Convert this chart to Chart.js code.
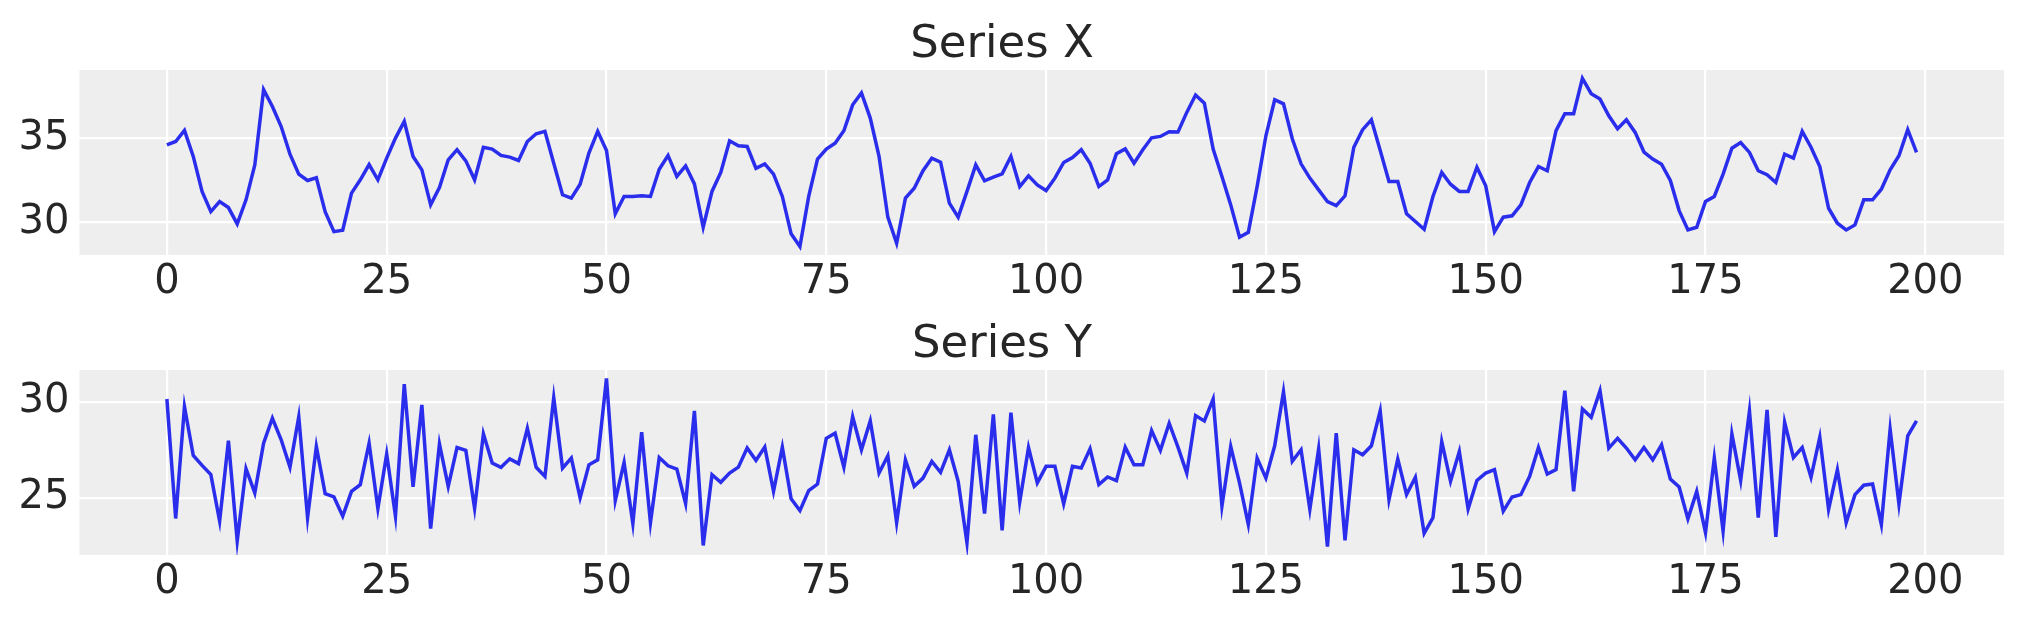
<!DOCTYPE html>
<html>
<head>
<meta charset="utf-8">
<script src="https://cdn.jsdelivr.net/npm/chart.js@4/dist/chart.umd.min.js"></script>
<style>
  html, body { margin: 0; padding: 0; background: #ffffff; }
  #wrap { position: relative; width: 2023px; height: 623px; }
  canvas { position: absolute; left: 0; }
</style>
</head>
<body>
<div id="wrap">
  <canvas id="chartX" width="2023" height="300" style="top:0px"></canvas>
  <canvas id="chartY" width="2023" height="323" style="top:300px"></canvas>
</div>
<script>
// values, index 0..199
const seriesX = [
  34.62, 34.82, 35.48, 33.93, 31.85, 30.65, 31.25, 30.89, 29.92, 31.35,
  33.43, 37.90, 36.90, 35.71, 34.07, 32.88, 32.50, 32.66, 30.65, 29.46,
  29.54, 31.75, 32.54, 33.45, 32.54, 33.83, 35.02, 36.01, 33.93, 33.13,
  31.05, 32.08, 33.73, 34.33, 33.67, 32.54, 34.48, 34.37, 33.99, 33.89,
  33.69, 34.82, 35.28, 35.42, 33.53, 31.65, 31.45, 32.28, 34.13, 35.42,
  34.29, 30.52, 31.55, 31.55, 31.59, 31.55, 33.17, 33.99, 32.74, 33.37,
  32.30, 29.72, 31.85, 32.98, 34.86, 34.56, 34.52, 33.23, 33.49, 32.88,
  31.55, 29.33, 28.57, 31.55, 33.77, 34.37, 34.72, 35.46, 37.00, 37.70,
  36.21, 33.93, 30.32, 28.77, 31.45, 32.04, 33.08, 33.83, 33.59, 31.15,
  30.32, 31.85, 33.43, 32.48, 32.70, 32.90, 33.93, 32.14, 32.78, 32.24,
  31.90, 32.64, 33.57, 33.87, 34.33, 33.53, 32.14, 32.54, 34.09, 34.38,
  33.53, 34.33, 35.04, 35.12, 35.40, 35.38, 36.55, 37.58, 37.10, 34.37,
  32.74, 31.05, 29.13, 29.42, 32.14, 35.16, 37.30, 37.06, 34.98, 33.49,
  32.64, 31.94, 31.25, 31.01, 31.59, 34.48, 35.52, 36.11, 34.29, 32.44,
  32.44, 30.52, 30.06, 29.60, 31.55, 32.98, 32.28, 31.85, 31.85, 33.29,
  32.18, 29.46, 30.32, 30.40, 31.05, 32.38, 33.33, 33.08, 35.46, 36.47,
  36.47, 38.57, 37.66, 37.34, 36.35, 35.58, 36.11, 35.36, 34.19, 33.77,
  33.47, 32.50, 30.71, 29.56, 29.72, 31.25, 31.55, 32.88, 34.42, 34.76,
  34.17, 33.08, 32.84, 32.38, 34.07, 33.83, 35.42, 34.48, 33.33, 30.85,
  29.96, 29.56, 29.86, 31.35, 31.35, 31.98, 33.13, 33.97, 35.52, 34.17
];

const seriesY = [
  30.14, 23.93, 29.74, 27.21, 26.69, 26.21, 23.79, 27.97, 22.76, 26.52,
  25.26, 27.84, 29.14, 28.02, 26.60, 29.22, 23.97, 27.67, 25.22, 25.05,
  24.05, 25.34, 25.69, 27.84, 24.45, 27.28, 24.05, 30.91, 25.57, 29.83,
  23.41, 27.81, 25.60, 27.62, 27.47, 24.45, 28.33, 26.81, 26.59, 27.03,
  26.78, 28.62, 26.59, 26.12, 30.21, 26.55, 27.07, 25.00, 26.72, 26.98,
  31.21, 24.86, 26.84, 23.67, 28.41, 23.71, 27.10, 26.67, 26.50, 24.71,
  29.52, 22.53, 26.21, 25.81, 26.29, 26.60, 27.59, 26.95, 27.64, 25.34,
  27.64, 24.95, 24.34, 25.38, 25.72, 28.10, 28.36, 26.60, 29.22, 27.50,
  29.00, 26.29, 27.19, 23.71, 26.98, 25.60, 26.03, 26.90, 26.33, 27.50,
  25.86, 22.67, 28.28, 24.19, 29.34, 23.31, 29.43, 24.78, 27.62, 25.78,
  26.64, 26.64, 24.69, 26.64, 26.55, 27.55, 25.69, 26.09, 25.90, 27.64,
  26.72, 26.72, 28.50, 27.47, 28.88, 27.64, 26.29, 29.28, 29.00, 30.14,
  24.57, 27.67, 25.78, 23.62, 27.07, 26.03, 27.71, 30.52, 26.90, 27.50,
  24.40, 27.55, 22.47, 28.36, 22.79, 27.50, 27.24, 27.71, 29.52, 24.91,
  27.02, 25.17, 26.07, 23.16, 23.97, 27.93, 25.86, 27.41, 24.43, 25.91,
  26.29, 26.47, 24.31, 25.05, 25.17, 26.12, 27.62, 26.24, 26.47, 30.57,
  25.34, 29.62, 29.19, 30.57, 27.59, 28.10, 27.59, 26.98, 27.62, 26.98,
  27.76, 25.98, 25.57, 23.91, 25.34, 23.19, 27.07, 23.28, 28.33, 25.91,
  29.52, 23.97, 29.57, 22.98, 28.93, 27.10, 27.62, 26.07, 28.16, 24.40,
  26.47, 23.71, 25.17, 25.66, 25.72, 23.62, 28.57, 24.69, 28.22, 29.00
];

const xTicks = [0, 25, 50, 75, 100, 125, 150, 175, 200];
const yTicksX = [30, 35];
const yTicksY = [25, 30];

const textColor = '#262626';
const fontFamily = "'DejaVu Sans', sans-serif";

// grey panel behind the plot area
const panelBg = {
  id: 'panelBg',
  beforeDraw(chart) {
    const a = chart.chartArea;
    const ctx = chart.ctx;
    ctx.save();
    ctx.fillStyle = '#eeeeee';
    ctx.fillRect(a.left, a.top, a.right - a.left, a.bottom - a.top);
    ctx.restore();
  }
};

// matplotlib style 5% margins
function paddedRange(values) {
  const lo = Math.min(...values), hi = Math.max(...values);
  const m = (hi - lo) * 0.05;
  return [lo - m, hi + m];
}

function makeChart(id, title, values, yTicks, xAxisHeight) {
  const yr = paddedRange(values);
  const n = values.length;
  const xm = (n - 1) * 0.05;
  return new Chart(document.getElementById(id).getContext('2d'), {
    type: 'line',
    data: {
      datasets: [{
        data: values.map((v, i) => ({ x: i, y: v })),
        borderColor: '#2a2eec',
        borderWidth: 3.5,
        pointRadius: 0,
        tension: 0,
        fill: false
      }]
    },
    options: {
      responsive: false,
      animation: false,
      events: [],
      layout: { padding: { left: 0, right: 19, top: 0, bottom: 0 } },
      plugins: {
        legend: { display: false },
        tooltip: { enabled: false },
        title: {
          display: true,
          text: title,
          color: textColor,
          font: { family: fontFamily, size: 45, weight: 'normal', lineHeight: 1.1 },
          padding: { top: 20.5, bottom: 0 }
        }
      },
      scales: {
        x: {
          type: 'linear',
          min: -xm,
          max: (n - 1) + xm,
          afterBuildTicks(scale) { scale.ticks = xTicks.map(v => ({ value: v })); },
          afterFit(scale) { scale.height = xAxisHeight; },
          grid: { color: '#ffffff', lineWidth: 2.2, drawTicks: false },
          border: { display: false },
          ticks: {
            color: textColor,
            font: { family: fontFamily, size: 40 },
            padding: 4,
            maxRotation: 0,
            autoSkip: false
          }
        },
        y: {
          type: 'linear',
          min: yr[0],
          max: yr[1],
          afterBuildTicks(scale) { scale.ticks = yTicks.map(v => ({ value: v })); },
          afterFit(scale) { scale.width = 79.4; },
          grid: { color: '#ffffff', lineWidth: 2.2, drawTicks: false },
          border: { display: false },
          ticks: {
            color: textColor,
            font: { family: fontFamily, size: 40 },
            padding: 10
          }
        }
      }
    },
    plugins: [panelBg]
  });
}

makeChart('chartX', 'Series X', seriesX, yTicksX, 45);
makeChart('chartY', 'Series Y', seriesY, yTicksY, 68);
</script>
</body>
</html>
